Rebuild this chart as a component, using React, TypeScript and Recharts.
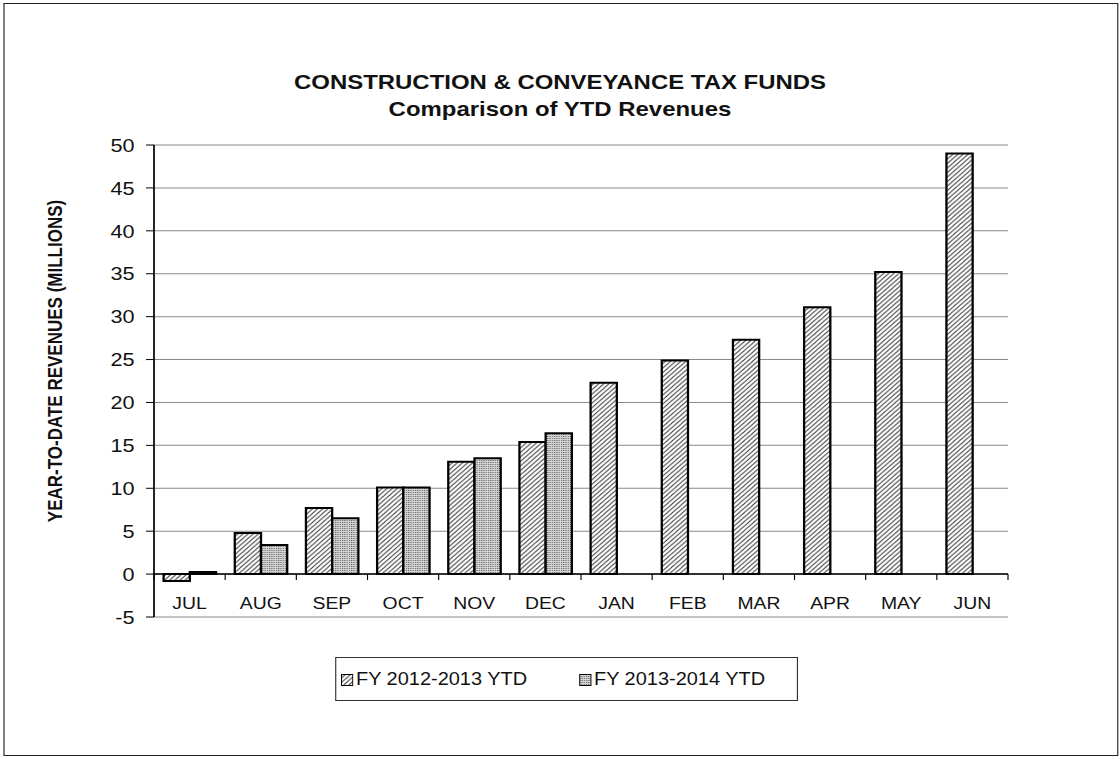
import React from 'react'
import { BarChart, Bar, XAxis, YAxis, CartesianGrid, ReferenceLine } from 'recharts'

const MONTHS = ['JUL', 'AUG', 'SEP', 'OCT', 'NOV', 'DEC', 'JAN', 'FEB', 'MAR', 'APR', 'MAY', 'JUN']
const FY_2012_13 = [-0.8, 4.8, 7.7, 10.1, 13.1, 15.4, 22.3, 24.9, 27.3, 31.1, 35.2, 49.0]
const FY_2013_14: (number | null)[] = [0.25, 3.4, 6.5, 10.1, 13.5, 16.4, null, null, null, null, null, null]
const Y_TICKS = [-5, 0, 5, 10, 15, 20, 25, 30, 35, 40, 45, 50]
const SERIES_NAMES = ['FY 2012-2013 YTD', 'FY 2013-2014 YTD']

// the scan is stretched sideways, so draw narrow and scale the whole thing
const SX = 1.14
const W = 1120 / SX
const H = 759
const PLOT_LEFT = 154 / SX
const PLOT_RIGHT = 1008 / SX
const PLOT_TOP = 145
const PLOT_BOTTOM = 617
const Y_AXIS_W = 60
const BAND = (PLOT_RIGHT - PLOT_LEFT) / MONTHS.length
const ZERO_Y = PLOT_BOTTOM - ((0 - Y_TICKS[0]) / (Y_TICKS[Y_TICKS.length - 1] - Y_TICKS[0])) * (PLOT_BOTTOM - PLOT_TOP)

const FONT = '"Liberation Sans", Arial, sans-serif'

const data = MONTHS.map((m, i) => ({ month: m, a: FY_2012_13[i], b: FY_2013_14[i] }))

function MonthTick(props: any) {
  const { x, index, payload } = props
  return (
    <g>
      <line x1={x - BAND / 2} x2={x - BAND / 2} y1={ZERO_Y} y2={ZERO_Y + 6} stroke="#000" strokeWidth={1} />
      {index === MONTHS.length - 1 && (
        <line x1={x + BAND / 2} x2={x + BAND / 2} y1={ZERO_Y} y2={ZERO_Y + 6} stroke="#000" strokeWidth={1} />
      )}
      <text x={x} y={PLOT_BOTTOM - 8} textAnchor="middle" fontSize={17} fontFamily={FONT} fill="#111">
        {payload.value}
      </text>
    </g>
  )
}

function Swatch({ fill }: { fill: string }) {
  return (
    <svg width={11} height={12} style={{ display: 'inline-block', marginRight: 2, verticalAlign: '-1px' }}>
      <rect x={0.5} y={0.5} width={10} height={11} fill={fill} stroke="#000" strokeWidth={1} />
    </svg>
  )
}

function LegendBox() {
  return (
    <div
      style={{
        position: 'absolute',
        left: 335 / SX,
        top: 657,
        width: (798 - 335) / SX,
        height: 44,
        border: '1px solid #333',
        boxSizing: 'border-box',
        display: 'flex',
        alignItems: 'center',
        fontFamily: FONT,
        fontSize: 17.5,
        color: '#111',
        background: '#fff',
      }}
    >
      <span style={{ marginLeft: 5 / SX, whiteSpace: 'nowrap' }}>
        <Swatch fill="url(#hatch)" />
        {SERIES_NAMES[0]}
      </span>
      <span style={{ marginLeft: 52 / SX, whiteSpace: 'nowrap' }}>
        <Swatch fill="url(#dots)" />
        {SERIES_NAMES[1]}
      </span>
    </div>
  )
}

export default function App() {
  return (
    <div
      style={{
        position: 'absolute',
        left: 0,
        top: 0,
        width: W,
        height: H,
        transform: `scaleX(${SX})`,
        transformOrigin: '0 0',
        background: '#fff',
      }}
    >
      {/* outer frame */}
      <div
        style={{
          position: 'absolute',
          left: 3 / SX,
          top: 3,
          width: (1118 - 3) / SX,
          height: 753,
          border: '1.5px solid #222',
          boxSizing: 'border-box',
        }}
      />
      <div
        style={{
          position: 'absolute',
          left: 0,
          width: W,
          top: 68,
          textAlign: 'center',
          fontFamily: FONT,
          fontWeight: 'bold',
          fontSize: 21,
          lineHeight: '27px',
          color: '#111',
        }}
      >
        <div>CONSTRUCTION &amp; CONVEYANCE TAX FUNDS</div>
        <div>Comparison of YTD Revenues</div>
      </div>
      <div
        style={{
          position: 'absolute',
          left: 56 / SX,
          top: 361,
          transform: 'translate(-50%, -50%) rotate(-90deg)',
          whiteSpace: 'nowrap',
          fontFamily: FONT,
          fontWeight: 'bold',
          fontSize: 17,
          color: '#111',
        }}
      >
        YEAR-TO-DATE REVENUES (MILLIONS)
      </div>
      <div style={{ position: 'absolute', left: 0, top: 0 }}>
        <BarChart
          width={W}
          height={H}
          data={data}
          margin={{ top: PLOT_TOP, right: W - PLOT_RIGHT, bottom: H - PLOT_BOTTOM - 1, left: PLOT_LEFT - Y_AXIS_W }}
          barCategoryGap="13.5%"
          barGap={0}
        >
          <defs>
            <pattern id="hatch" patternUnits="userSpaceOnUse" width={4.5} height={4.5}>
              <rect width={4.5} height={4.5} fill="#fff" />
              <path d="M0,4.5 L4.5,0 M-1,1 L1,-1 M3.5,5.5 L5.5,3.5" stroke="#333" strokeWidth={0.9} />
            </pattern>
            <pattern id="dots" patternUnits="userSpaceOnUse" width={2} height={2}>
              <rect width={2} height={2} fill="#d4d4d4" />
              <rect width={1} height={1} fill="#666" />
            </pattern>
          </defs>
          <CartesianGrid vertical={false} stroke="#8a8a8a" strokeWidth={1} />
          <XAxis
            dataKey="month"
            height={1}
            axisLine={false}
            tickLine={false}
            tickSize={0}
            tickMargin={0}
            interval={0}
            tick={<MonthTick />}
          />
          <YAxis
            width={Y_AXIS_W}
            domain={[-5, 50]}
            ticks={Y_TICKS}
            interval={0}
            axisLine={{ stroke: '#000', strokeWidth: 1.5 }}
            tickLine={{ stroke: '#000', strokeWidth: 1 }}
            tickSize={7}
            tickMargin={10}
            tick={{ fontSize: 19, fontFamily: FONT, fill: '#111' }}
          />
          <YAxis
            yAxisId="r"
            orientation="right"
            width={0}
            domain={[-5, 50]}
            tick={false}
            tickLine={false}
            axisLine={{ stroke: '#8a8a8a', strokeWidth: 1 }}
          />
          <ReferenceLine y={0} stroke="#000" strokeWidth={1.5} />
          <Bar dataKey="a" name={SERIES_NAMES[0]} fill="url(#hatch)" stroke="#000" strokeWidth={2} isAnimationActive={false} />
          <Bar dataKey="b" name={SERIES_NAMES[1]} fill="url(#dots)" stroke="#000" strokeWidth={2} isAnimationActive={false} />
        </BarChart>
      </div>
      <LegendBox />
    </div>
  )
}
